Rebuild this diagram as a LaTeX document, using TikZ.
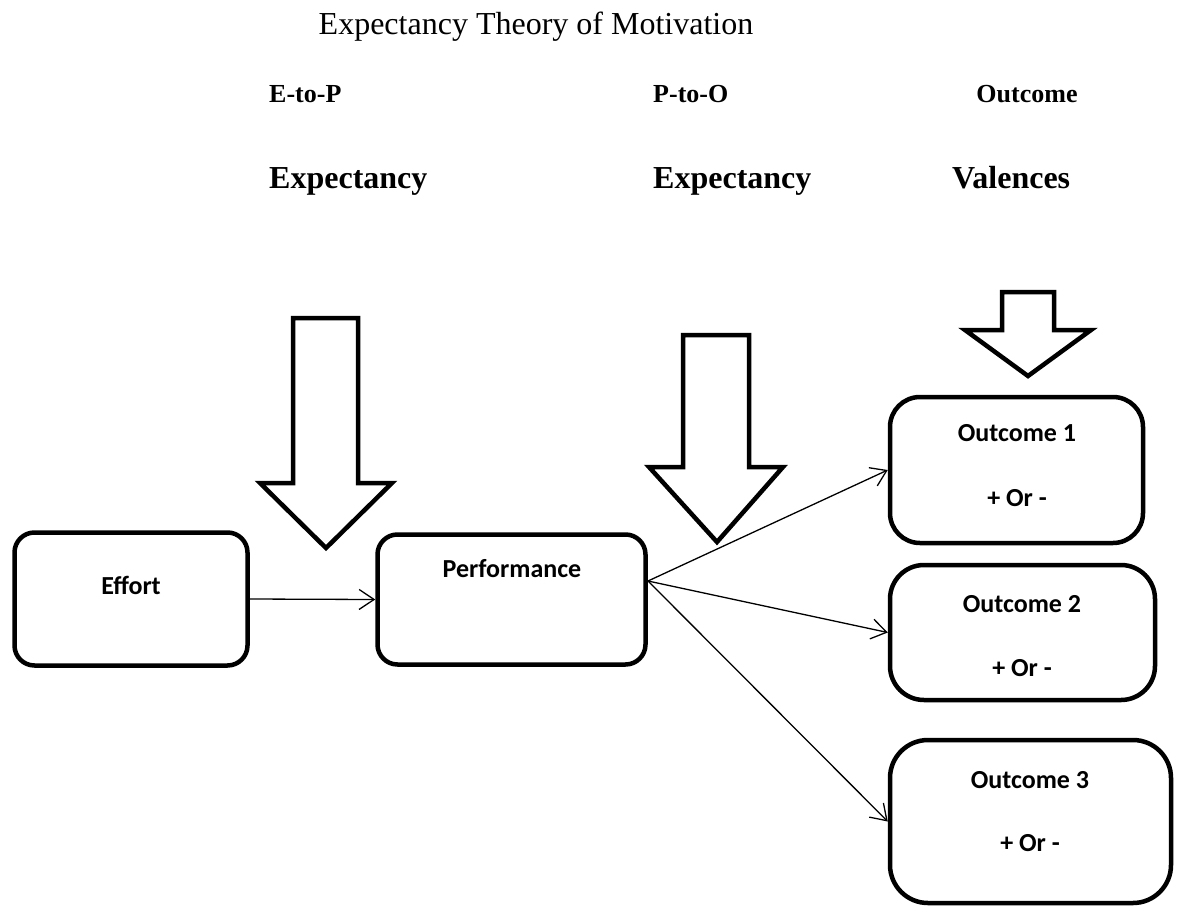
\documentclass[tikz,border=0pt]{standalone}
\usepackage{fontspec}
\setmainfont{Liberation Serif}
\newfontfamily\boxfont{Carlito}
\usetikzlibrary{arrows.meta}

\begin{document}
\begin{tikzpicture} [x = 1pt, y = -1pt,
	box/.style = {draw, line width = 4.5pt, inner sep = 0pt},
	boxtext/.style = {inner sep = 0pt, font = \boxfont\bfseries\fontsize{26}{30}\selectfont},
	head/.style = {inner sep = 0pt, anchor = base west, font = \bfseries\fontsize{26}{30}\selectfont},
	bighead/.style = {head, font = \bfseries\fontsize{32}{38}\selectfont},
	bigarrow/.style = {draw, line width = 4.5pt, line join = miter},
	link/.style = {-{Straight Barb[length = 15pt, width = 20pt]}, line width = 1.3pt}]
	\useasboundingbox (0,0) rectangle (1181,908);
	% headings
	\node [inner sep = 0pt, anchor = base, font = \fontsize{32}{38}\selectfont] (title) at (536,34) {Expectancy Theory of Motivation};
	\node [head] (ep) at (269,102) {E-to-P};
	\node [head] (po) at (653,102) {P-to-O};
	\node [head, anchor = base] (oc) at (1027,102) {Outcome};
	\node [bighead] (epx) at (269,188) {Expectancy};
	\node [bighead] (pox) at (653,188) {Expectancy};
	\node [bighead] (val) at (952,188) {Valences};
	% big arrows
	\draw [bigarrow] (293,318) -- (358,318) -- (358,483) -- (392,483) -- (326,548) -- (260,483) -- (293,483) -- cycle;
	\draw [bigarrow] (683,335) -- (749,335) -- (749,467) -- (783,467) -- (717,542) -- (649,467) -- (683,467) -- cycle;
	\draw [bigarrow] (1002,292) -- (1054,292) -- (1054,330) -- (1091,330) -- (1028,376) -- (965,330) -- (1002,330) -- cycle;
	% boxes
	\node [box, rounded corners = 20pt, minimum width = 233pt, minimum height = 133pt] (effort) at (131,599) {};
	\node [box, rounded corners = 20pt, minimum width = 268pt, minimum height = 130pt] (perf) at (511.5,599.5) {};
	\node [box, rounded corners = 30pt, minimum width = 253pt, minimum height = 146pt] (out1) at (1016.5,470) {};
	\node [box, rounded corners = 34pt, minimum width = 265pt, minimum height = 135pt] (out2) at (1022.5,632.5) {};
	\node [box, rounded corners = 38pt, minimum width = 281pt, minimum height = 163pt] (out3) at (1030.5,821.5) {};
	\node [boxtext] (efforttext) at (131,585) {Effort};
	\node [boxtext] (perftext) at (512,569) {Performance};
	\node [boxtext] (out1name) at (1017,433) {Outcome 1};
	\node [boxtext] (out1sign) at (1017,498) {+ Or -};
	\node [boxtext] (out2name) at (1022,604) {Outcome 2};
	\node [boxtext] (out2sign) at (1022,668) {+ Or -};
	\node [boxtext] (out3name) at (1030,780) {Outcome 3};
	\node [boxtext] (out3sign) at (1030,843) {+ Or -};
	% connectors
	\coordinate (fan) at (648,581);
	\draw [link] (effort.east) -- (perf.west);
	\draw [link] (fan) -- (out1.west);
	\draw [link] (fan) -- (out2.west);
	\draw [link] (fan) -- (out3.west);
\end{tikzpicture}
\end{document}
